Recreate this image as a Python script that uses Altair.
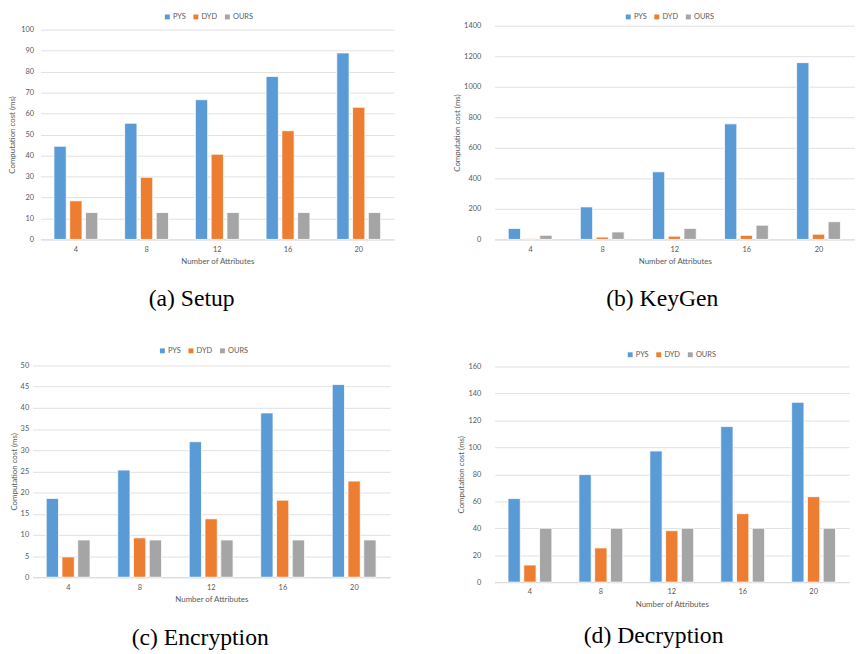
import altair as alt
import pandas as pd

attrs = ["4", "8", "12", "16", "20"]
schemes = ["PYS", "DYD", "OURS"]
colors = ["#5B9BD5", "#ED7D31", "#A5A5A5"]

setup_pys = [44.4, 55.4, 66.6, 77.7, 88.9]
setup_dyd = [18.4, 29.6, 40.6, 51.8, 63.0]
setup_ours = [12.8, 12.8, 12.8, 12.8, 12.8]

keygen_pys = [72, 213, 443, 757, 1158]
keygen_dyd = [6, 15, 21, 27, 34]
keygen_ours = [27, 49, 72, 93, 116]

enc_pys = [18.6, 25.3, 32.0, 38.8, 45.5]
enc_dyd = [4.8, 9.3, 13.8, 18.2, 22.7]
enc_ours = [8.8, 8.8, 8.8, 8.8, 8.8]

dec_pys = [62.0, 79.8, 97.3, 115.4, 133.4]
dec_dyd = [12.7, 25.4, 38.2, 50.8, 63.4]
dec_ours = [40.0, 40.0, 40.0, 40.0, 40.0]

TXT = "#595959"
FONT = "Lato"


def frame(pys, dyd, ours):
    rows = []
    for name, vals in zip(schemes, [pys, dyd, ours]):
        for a, v in zip(attrs, vals):
            rows.append({"attr": a, "scheme": name, "value": v})
    return pd.DataFrame(rows)


def panel(pys, dyd, ours, ymax, ystep, caption, width, height, yrange,
          legx, legy, cap_dx=0, cap_off=22, lpad=7, tpad=4,
          xrange=None, yoffset=0):
    df = frame(pys, dyd, ours)
    xscale = dict(paddingInner=0.38, paddingOuter=0.19)
    if xrange is not None:
        xscale["range"] = xrange
    return alt.Chart(df).mark_bar(stroke="white", strokeWidth=0.8).encode(
        x=alt.X("attr:N", sort=attrs,
                scale=alt.Scale(**xscale),
                axis=alt.Axis(title="Number of Attributes", labelAngle=0,
                              ticks=False, grid=False, domain=True,
                              domainColor="#d9d9d9", labelPadding=6,
                              titlePadding=5)),
        xOffset=alt.XOffset("scheme:N", sort=schemes,
                            scale=alt.Scale(paddingInner=0.22, paddingOuter=0)),
        y=alt.Y("value:Q",
                scale=alt.Scale(domain=[0, ymax], range=yrange, nice=False),
                axis=alt.Axis(title="Computation cost (ms)", format="d",
                              values=list(range(0, ymax + 1, ystep)),
                              ticks=False, domain=False, grid=True,
                              gridColor="#d9d9d9", gridWidth=0.8,
                              labelPadding=lpad, titlePadding=tpad,
                              offset=yoffset)),
        color=alt.Color("scheme:N", sort=schemes,
                        scale=alt.Scale(domain=schemes, range=colors),
                        legend=alt.Legend(orient="none", legendX=legx, legendY=legy,
                                          direction="horizontal", columns=3,
                                          title=None, symbolType="square",
                                          symbolSize=25, symbolStrokeWidth=0,
                                          labelFontSize=7.5, labelColor=TXT,
                                          labelFont=FONT, columnPadding=6,
                                          labelOffset=2, padding=0)),
    ).properties(
        width=width, height=height,
        title=alt.TitleParams(caption, orient="bottom", anchor="middle",
                              frame="bounds", font="Liberation Serif",
                              fontSize=24, fontWeight="normal", color="black",
                              offset=cap_off, dx=cap_dx),
    )


a = panel(setup_pys, setup_dyd, setup_ours, 100, 10, "(a) Setup",
          359, 217, [217, 4], 133, -13, cap_dx=-6, cap_off=22,
          xrange=[8, 367], yoffset=-8)
b = panel(keygen_pys, keygen_dyd, keygen_ours, 1400, 200, "(b) KeyGen",
          366, 217, [217, 0], 132, -13, cap_dx=8, cap_off=22, lpad=14, tpad=2)
c = panel(enc_pys, enc_dyd, enc_ours, 50, 5, "(c) Encryption",
          363, 215, [215, 0], 128, -19, cap_dx=0, cap_off=23,
          lpad=4, tpad=2)
d = panel(dec_pys, dec_dyd, dec_ours, 160, 20, "(d) Decryption",
          360, 219, [219, 0], 134, -16, cap_dx=0, cap_off=16, lpad=14, tpad=2)

ind = dict(color="independent", y="independent", x="independent")

left = alt.concat(a, c, columns=1, align="none", spacing=36).resolve_scale(
    **ind).resolve_legend(color="independent")
right = alt.concat(b, d, columns=1, align="none", spacing=40).resolve_scale(
    **ind).resolve_legend(color="independent")

chart = alt.hconcat(left, right, spacing=64).resolve_scale(
    **ind
).resolve_legend(color="independent").properties(
    padding={"left": 0, "top": 0, "right": 0, "bottom": 0}
).configure_view(
    stroke=None
).configure_axis(
    labelFont=FONT, titleFont=FONT, labelColor=TXT, titleColor=TXT,
    labelFontSize=7.5, titleFontSize=8, titleFontWeight="normal"
)

chart.save("out.html", embed_options={"renderer": "svg", "actions": False})
